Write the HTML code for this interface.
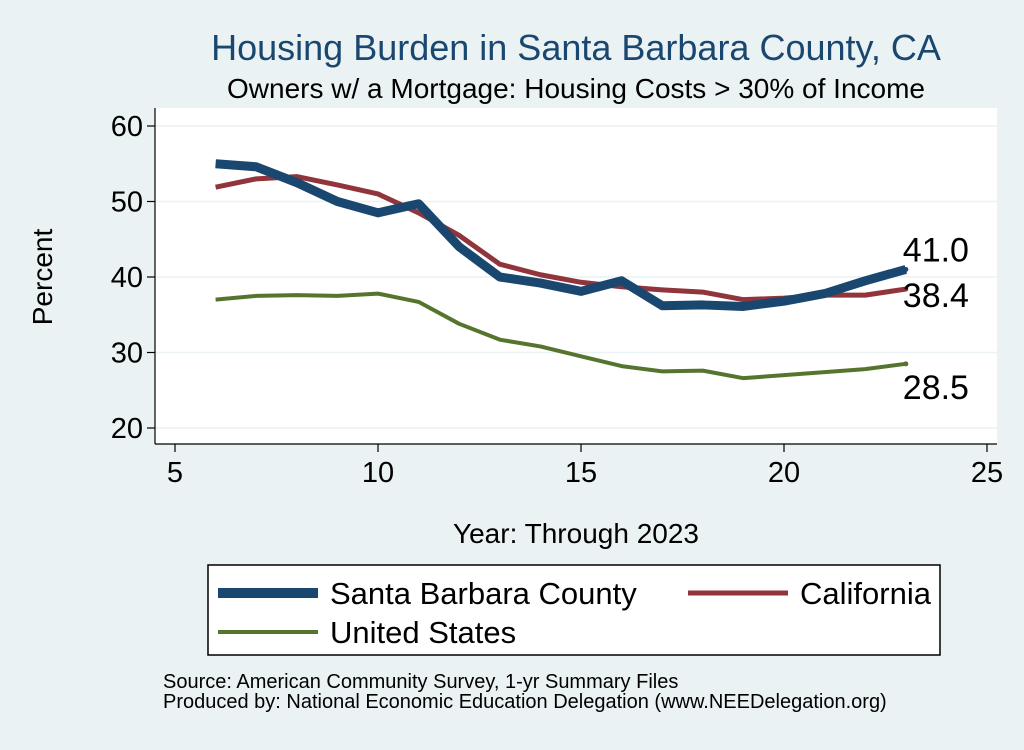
<!DOCTYPE html>
<html><head><meta charset="utf-8"><style>
body{margin:0;background:#eaf2f3;}
svg text{font-family:"Liberation Sans",sans-serif;}
</style></head><body>
<svg width="1024" height="745" viewBox="0 0 1024 745">
<rect x="0" y="0" width="1024" height="745" fill="#eaf2f3"/>
<rect x="155" y="108" width="842" height="336" fill="#fff"/>
<text x="576" y="60" font-size="36" fill="#1a476f" text-anchor="middle">Housing Burden in Santa Barbara County, CA</text>
<text x="576" y="98" font-size="28" fill="#000" text-anchor="middle">Owners w/ a Mortgage: Housing Costs &gt; 30% of Income</text>
<g id="grid"></g><g id="axes"></g><g id="series"></g>
<text x="52" y="277" font-size="28" text-anchor="middle" transform="rotate(-90 52 277)">Percent</text>
<text x="576" y="543" font-size="28" text-anchor="middle">Year: Through 2023</text>
<g>
<rect x="208" y="565" width="732" height="90" fill="#fff" stroke="#000" stroke-width="1.5"/>
<line x1="218" y1="593" x2="318" y2="593" stroke="#1a476f" stroke-width="10"/>
<text x="330" y="604" font-size="31">Santa Barbara County</text>
<line x1="688" y1="593" x2="788" y2="593" stroke="#90353b" stroke-width="5"/>
<text x="800" y="604" font-size="31">California</text>
<line x1="218" y1="632" x2="318" y2="632" stroke="#55752f" stroke-width="4"/>
<text x="330" y="643" font-size="31">United States</text>
</g>
<text x="163" y="688" font-size="20">Source: American Community Survey, 1-yr Summary Files</text>
<text x="163" y="708" font-size="20">Produced by: National Economic Education Delegation (www.NEEDelegation.org)</text>
</svg>
<script>
const years=[6,7,8,9,10,11,12,13,14,15,16,17,18,19,20,21,22,23];
const sbValues=[55,54.6,52.5,50,48.5,49.7,44,40,39.2,38.1,39.5,36.2,36.3,36.1,36.8,37.8,39.5,41.0];
const caValues=[51.9,53,53.3,52.2,51,48.5,45.5,41.7,40.3,39.3,38.7,38.3,38.0,37.0,37.2,37.6,37.6,38.4];
const usValues=[37,37.5,37.6,37.5,37.8,36.7,33.8,31.7,30.8,29.5,28.2,27.5,27.6,26.6,27.0,27.4,27.8,28.5];
const xTicks=[5,10,15,20,25];
const yTicks=[20,30,40,50,60];
const NS="http://www.w3.org/2000/svg";
const xs=v=>175+(v-5)*(987-175)/20;
const ys=v=>428-(v-20)*(428-126)/40;
function mk(tag,attrs,parent,txt){const e=document.createElementNS(NS,tag);for(const k in attrs)e.setAttribute(k,attrs[k]);if(txt!=null)e.textContent=txt;document.getElementById(parent).appendChild(e);return e;}
yTicks.forEach(t=>{
 const g=mk('line',{x1:155,x2:997,y1:ys(t),y2:ys(t),stroke:'#eaf2f3','stroke-width':1.5},'grid');
 
 
 const tk=mk('line',{x1:147,x2:155,y1:ys(t),y2:ys(t),stroke:'#000','stroke-width':1.2},'axes');
 
 
 const l=mk('text',{x:143,y:ys(t)+10,'font-size':29,'text-anchor':'end'},'axes',t);
 
 
});
xTicks.forEach(t=>{
 const tk=mk('line',{x1:xs(t),x2:xs(t),y1:444,y2:452,stroke:'#000','stroke-width':1.2},'axes');
 
 
 const l=mk('text',{x:xs(t),y:482,'font-size':29,'text-anchor':'middle'},'axes',t);
 
 
});
const ya=mk('line',{x1:155,x2:155,y1:108,y2:444,stroke:'#000','stroke-width':1.2},'axes');


const xa=mk('line',{x1:155,x2:997,y1:444,y2:444,stroke:'#000','stroke-width':1.2},'axes');


function series(vals,color,w,name,dy){
 const pts=years.map((y,i)=>xs(y)+','+ys(vals[i])).join(' ');
 const p=mk('polyline',{points:pts,fill:'none',stroke:color,'stroke-width':w,'stroke-linejoin':'round'},'series');
 
 
 const last=vals[vals.length-1];
 const c=mk('circle',{cx:xs(years[years.length-1]),cy:ys(last),r:2.5,fill:color},'series');
 
 
 const l=mk('text',{x:xs(years[years.length-1])-3,y:ys(last)+dy,'font-size':34},'series',last.toFixed(1));
 
 
}
series(usValues,'#55752f',4,'us',35);
series(caValues,'#90353b',5,'california',18);
series(sbValues,'#1a476f',9,'santa-barbara',-8);
</script>
</body></html>
